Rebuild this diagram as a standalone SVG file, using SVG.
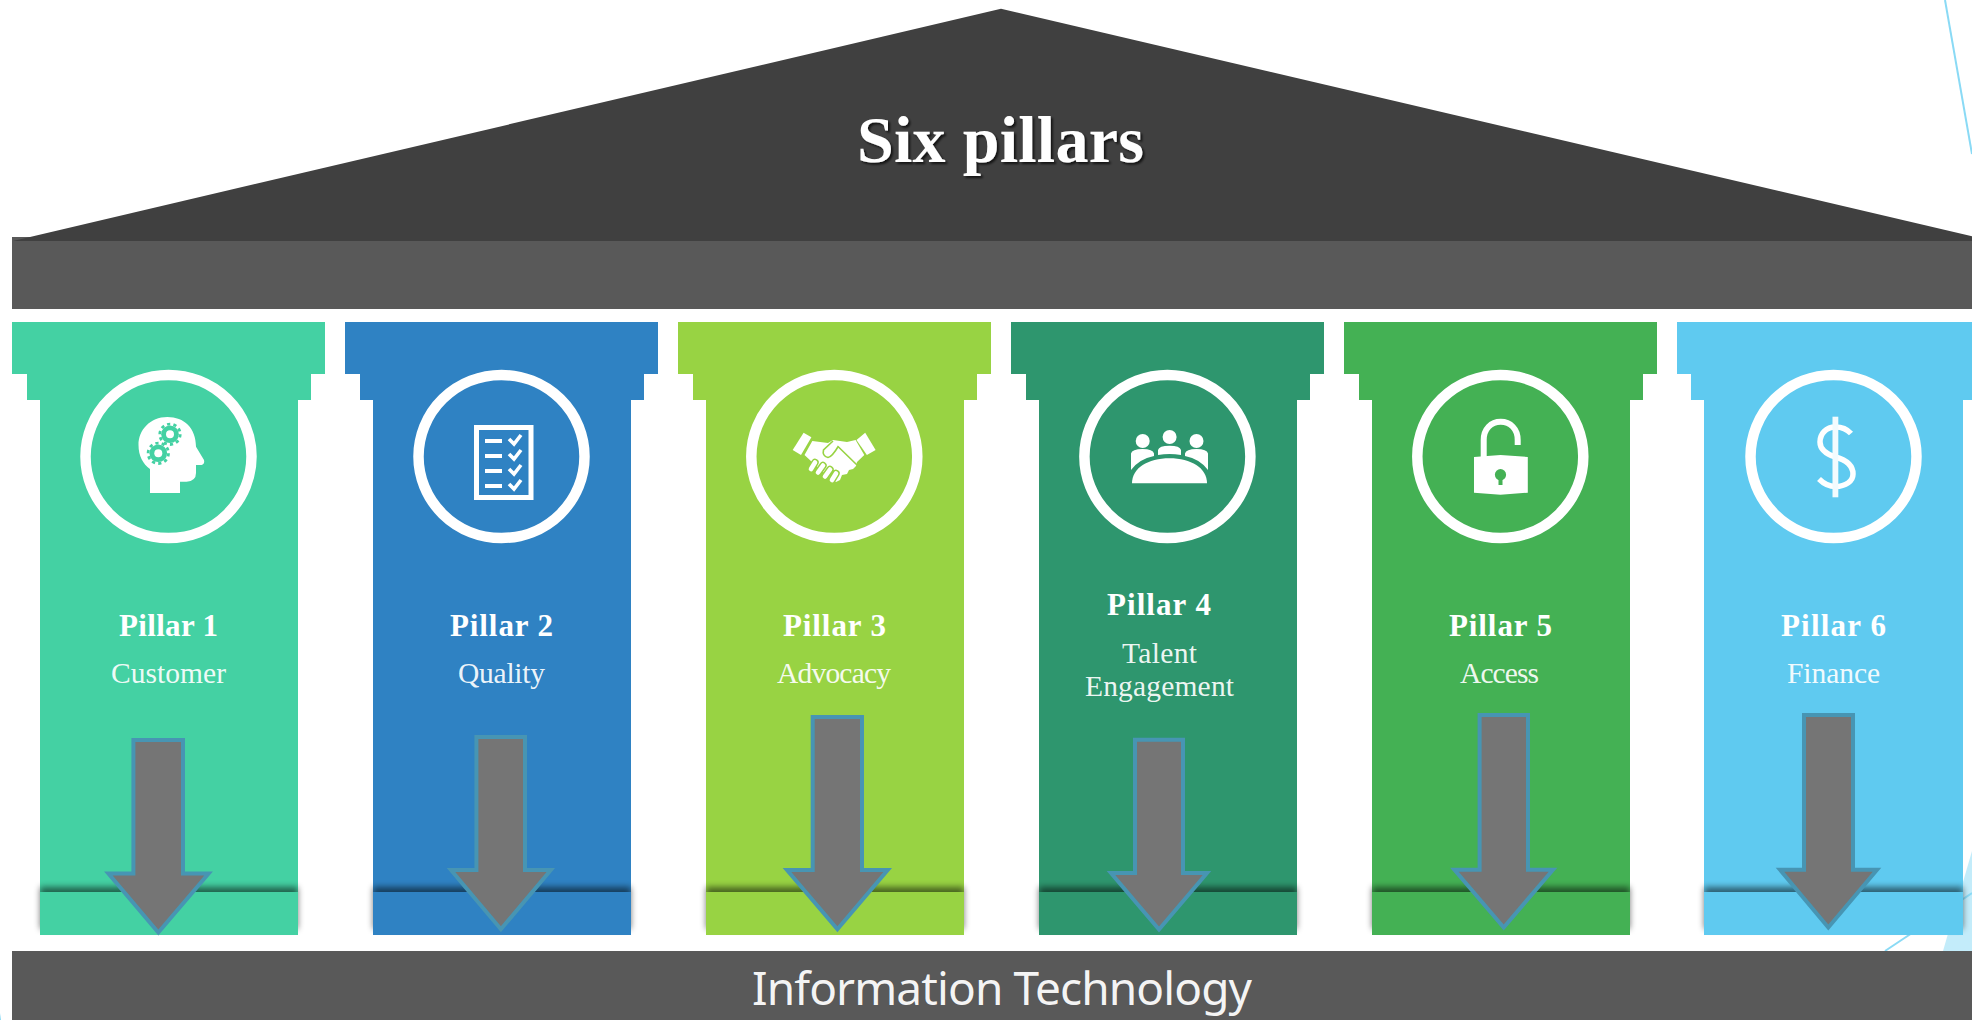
<svg xmlns="http://www.w3.org/2000/svg" width="1972" height="1020" viewBox="0 0 1972 1020">
<defs>
<style>
.band{fill:#000;opacity:.52;filter:url(#blur)}
.ring{fill:none;stroke:#fff;stroke-width:10.5}
.ico{fill:#fff}
.ln{fill:none;stroke:#fff}
.t1{font-family:"Liberation Serif",serif;font-weight:700;font-size:31px;fill:#fff}
.t2{font-family:"Liberation Serif",serif;font-size:29.5px;fill:#fff;fill-opacity:.93}
.arrow{fill:#757575;stroke:#4795b3;stroke-width:4;stroke-miterlimit:10}
.deco{fill:none;stroke:#8adaf5;stroke-width:2}
</style>
<filter id="blur" x="-5%" y="-40%" width="110%" height="180%"><feGaussianBlur stdDeviation="3.2"/></filter>
<filter id="ts" x="-5%" y="-10%" width="110%" height="130%"><feDropShadow dx="2" dy="2" stdDeviation="1" flood-color="#000" flood-opacity=".7"/></filter>
</defs>
<rect width="1972" height="1020" fill="#fff"/>
<g id="backdrop">
<line class="deco" x1="1945" y1="0" x2="1972" y2="154"/>
<polygon points="1943,951 1972,851 1972,951" fill="#c3ecfa"/>
<line class="deco" x1="1885" y1="951" x2="1972" y2="893"/>
<polygon points="0,1013 1,1020 0,1020" fill="#8adaf5"/>
</g>
<g id="roof">
<rect x="12" y="237" width="1960" height="72" fill="#595959"/>
<polygon points="13,241 1001,8.7 1992,241" fill="#404040"/>
<text x="857" y="161.5" textLength="287" font-family="'Liberation Serif',serif" font-weight="700" font-size="66" fill="#fff" filter="url(#ts)">Six pillars</text>
</g>
<g id="foundation">
<rect x="12" y="951" width="1960" height="69" fill="#595959"/>
<text x="752" y="1005" textLength="500" font-family="'Noto Sans',sans-serif" font-weight="400" font-size="46" fill="#fff" fill-opacity=".95">Information Technology</text>
</g>
<g id="pillar-1">
<polygon fill="#44d1a3" points="12,322 325,322 325,374 311,374 311,400 298,400 298,935 40,935 40,400 27,400 27,374 12,374"/>
<rect class="band" x="40" y="887" width="258" height="42"/>
<rect x="40" y="892" width="258" height="43" fill="#44d1a3"/>
<ellipse class="ring" cx="168.5" cy="456.5" rx="83" ry="81.5"/>
<path class="ico" d="M150 493H180V481.7H186.5Q196 481 196 473V465H201.6Q205 464 204 460L196 446.7C196 428 184 417 167.4 417C150 417 138.5 430 138.5 445C138.5 456 143 464 150 469Z"/>
<circle cx="170" cy="434.3" r="8.8" fill="#44d1a3"/><circle cx="170" cy="434.3" r="10.2" fill="none" stroke="#44d1a3" stroke-width="2.8" stroke-dasharray="3.2 3.2"/><circle cx="170" cy="434.3" r="4" fill="#fff"/>
<circle cx="158.3" cy="453.3" r="8.8" fill="#44d1a3"/><circle cx="158.3" cy="453.3" r="10.2" fill="none" stroke="#44d1a3" stroke-width="2.8" stroke-dasharray="3.2 3.2"/><circle cx="158.3" cy="453.3" r="4" fill="#fff"/>
<text class="t1" x="119" y="636" textLength="99">Pillar 1</text>
<text class="t2" x="111" y="683" textLength="115">Customer</text>
</g>
<g id="pillar-2">
<polygon fill="#2f82c3" points="345,322 658,322 658,374 644,374 644,400 631,400 631,935 373,935 373,400 360,400 360,374 345,374"/>
<rect class="band" x="373" y="887" width="258" height="42"/>
<rect x="373" y="892" width="258" height="43" fill="#2f82c3"/>
<ellipse class="ring" cx="501.5" cy="456.5" rx="83" ry="81.5"/>
<rect class="ln" x="476.5" y="427.5" width="54.5" height="70" stroke-width="5"/>
<g class="ico">
<rect x="485" y="439" width="17" height="4"/><rect x="485" y="454" width="17" height="4"/><rect x="485" y="469" width="17" height="4"/><rect x="485" y="484" width="17" height="4"/>
</g>
<g class="ln" stroke-width="3.6">
<polyline points="509,439 514,444 521,435"/><polyline points="509,454 514,459 521,450"/><polyline points="509,469 514,474 521,465"/><polyline points="509,484 514,489 521,480"/>
</g>
<text class="t1" x="450" y="636" textLength="103">Pillar 2</text>
<text class="t2" x="458" y="683" textLength="87">Quality</text>
</g>
<g id="pillar-3">
<polygon fill="#98d343" points="678,322 991,322 991,374 977,374 977,400 964,400 964,935 706,935 706,400 693,400 693,374 678,374"/>
<rect class="band" x="706" y="887" width="258" height="42"/>
<rect x="706" y="892" width="258" height="43" fill="#98d343"/>
<ellipse class="ring" cx="834.3" cy="456.5" rx="83" ry="81.5"/>
<polygon class="ico" points="803.6,432.7 811.4,437.3 801,455 792.7,450"/>
<polygon class="ico" points="865.2,432.7 875.6,450 866.9,455 856.5,440"/>
<polygon class="ico" points="812.3,441 828,443 833,440 847,442 855.6,440 864.3,455 857,462 856,466 853,469 849,470 847,474 842,475 840,480 836,482 832,480 812,462 804.5,455"/>
<path d="M838.5 447L857 465M833 441L823.5 450Q822 456 828 457.5Q832 457 838.5 446" fill="none" stroke="#98d343" stroke-width="1.6"/>
<g fill="none" stroke-linecap="round">
<g stroke="#98d343" stroke-width="7.5"><path d="M811 469L815 462.5M818 472.5L823 465.5M825 476.5L830 469.5M832 480L836 473.5"/></g>
<g stroke="#fff" stroke-width="4.6"><path d="M811 469L815 462.5M818 472.5L823 465.5M825 476.5L830 469.5M832 480L836 473.5"/></g>
</g>
<text class="t1" x="783" y="636" textLength="103">Pillar 3</text>
<text class="t2" x="777" y="683" textLength="114">Advocacy</text>
</g>
<g id="pillar-4">
<polygon fill="#2e966e" points="1011,322 1324,322 1324,374 1310,374 1310,400 1297,400 1297,935 1039,935 1039,400 1026,400 1026,374 1011,374"/>
<rect class="band" x="1039" y="887" width="258" height="42"/>
<rect x="1039" y="892" width="258" height="43" fill="#2e966e"/>
<ellipse class="ring" cx="1167.4" cy="456.5" rx="83" ry="81.5"/>
<g class="ico">
<ellipse cx="1142.7" cy="441" rx="7" ry="7"/><ellipse cx="1169.6" cy="437" rx="7" ry="7"/><ellipse cx="1196.5" cy="441" rx="7" ry="7"/>
<path d="M1131 470V453.5Q1132 449 1142.5 449Q1153 449 1154 453.5V456Q1139 459 1131 470Z"/>
<path d="M1208 470V453.5Q1207 449 1196.5 449Q1186 449 1185 453.5V456Q1200 459 1208 470Z"/>
<path d="M1158 455V450Q1159 445.7 1169.5 445.7Q1180 445.7 1181 450V455Q1169.5 453 1158 455Z"/>
<path d="M1132 483.3C1132 468 1148 458.3 1169.5 458.3C1191 458.3 1207 468 1207 483.3Z"/>
</g>
<text class="t1" x="1107" y="615" textLength="104">Pillar 4</text>
<text class="t2" x="1122" y="662.5" textLength="75">Talent</text>
<text class="t2" x="1085" y="696" textLength="149">Engagement</text>
</g>
<g id="pillar-5">
<polygon fill="#44b154" points="1344,322 1657,322 1657,374 1643,374 1643,400 1630,400 1630,935 1372,935 1372,400 1359,400 1359,374 1344,374"/>
<rect class="band" x="1372" y="887" width="258" height="42"/>
<rect x="1372" y="892" width="258" height="43" fill="#44b154"/>
<ellipse class="ring" cx="1500.3" cy="456.5" rx="83" ry="81.5"/>
<path class="ln" stroke-width="6" d="M1483.7 457V440C1483.7 429 1491 421.8 1500.7 421.8C1510.4 421.8 1517.7 429 1517.7 440V445"/>
<polygon class="ico" points="1474,457 1500.5,455 1527.8,457 1527.8,492.7 1500.5,494.7 1474,492.7"/>
<circle cx="1500.5" cy="474.7" r="5.6" fill="#44b154"/><rect x="1498.5" y="476" width="4" height="9" fill="#44b154"/>
<text class="t1" x="1449" y="636" textLength="103">Pillar 5</text>
<text class="t2" x="1460" y="683" textLength="79">Access</text>
</g>
<g id="pillar-6">
<polygon fill="#5fcaf0" points="1677,322 1990,322 1990,374 1976,374 1976,400 1963,400 1963,935 1704,935 1704,400 1691,400 1691,374 1677,374"/>
<rect class="band" x="1704" y="887" width="259" height="42"/>
<rect x="1704" y="892" width="259" height="43" fill="#5fcaf0"/>
<ellipse class="ring" cx="1833.5" cy="456.5" rx="83" ry="81.5"/>
<path class="ln" stroke="#f2fbfe" stroke-width="5.5" d="M1851 433.5C1846 428 1841 427 1835.4 427C1826 427 1820 434 1820 442C1820 450 1826 454 1835.4 457C1846 460 1853 465 1853 474C1853 481 1846 486.5 1835.4 486.5C1829 486.5 1824 484 1819 479"/>
<rect x="1832.5" y="416.7" width="5.8" height="80.6" fill="#f2fbfe"/>
<text class="t1" x="1781" y="636" textLength="105">Pillar 6</text>
<text class="t2" x="1787" y="683" textLength="93">Finance</text>
</g>
<g id="connectors">
<polygon class="arrow" points="133.4,740 183,740 183,873.5 208.6,873.5 158.3,932.5 108.4,873.5 133.4,873.5"/>
<polygon class="arrow" points="476.4,737 525,737 525,870 550.8,870 500.9,929.2 451,870 476.4,870"/>
<polygon class="arrow" points="812.7,717 862,717 862,870 887.7,870 837.4,929.2 787,870 812.7,870"/>
<polygon class="arrow" points="1135,739.7 1183,739.7 1183,873 1207,873 1159,929.5 1111,873 1135,873"/>
<polygon class="arrow" points="1479.6,715 1528,715 1528,869.7 1553,869.7 1503.7,927.5 1454.4,869.7 1479.6,869.7"/>
<polygon class="arrow" points="1804,715 1853,715 1853,869.7 1877,869.7 1828.3,927.5 1780,869.7 1804,869.7"/>
</g>
</svg>
